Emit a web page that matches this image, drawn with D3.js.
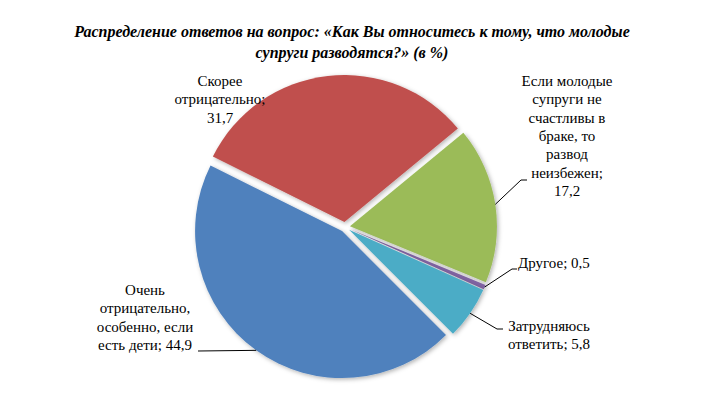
<!DOCTYPE html>
<html>
<head>
<meta charset="utf-8">
<script src="https://cdn.jsdelivr.net/npm/d3@7"></script>
<style>
  html, body { margin: 0; padding: 0; background: #fff; }
  svg { display: block; }
  .serif { font-family: 'Liberation Serif', 'DejaVu Serif', 'Times New Roman', Times, serif; }
</style>
</head>
<body>
<div id="chart"></div>
<script>
// Данные диаграммы (в %)
const labels = [
  'Скорее отрицательно',
  'Если молодые супруги не счастливы в браке, то развод неизбежен',
  'Другое',
  'Затрудняюсь ответить',
  'Очень отрицательно, особенно, если есть дети'
];
const values = [31.7, 17.2, 0.5, 5.8, 44.9];
const colors = ['#C0504D', '#9BBB59', '#8064A2', '#4BACC6', '#4F81BD'];

// Подписи с разбиением на строки
const labelLines = [
  ['Скорее', 'отрицательно;', '31,7'],
  ['Если молодые', 'супруги не', 'счастливы в', 'браке, то', 'развод', 'неизбежен;', '17,2'],
  ['Другое; 0,5'],
  ['Затрудняюсь', 'ответить; 5,8'],
  ['Очень', 'отрицательно,', 'особенно, если', 'есть дети; 44,9']
];

const titleLines = [
  'Распределение ответов на вопрос: «Как Вы относитесь к тому, что молодые',
  'супруги разводятся?» (в %)'
];

const width = 705, height = 397;
const cx = 345, cy = 227, radius = 147;
const explode = 5;
const startAngle = -63.5 * Math.PI / 180;

// Расположение подписей: x, y первой строки, выравнивание, точки выноски
const labelLayout = [
  { x: 220, y: 86, anchor: 'middle', leader: null },
  { x: 567, y: 86, anchor: 'middle', leader: [[521, 180], [527, 180]] },
  { x: 518, y: 268, anchor: 'start', leader: [[512, 269], [517, 269]] },
  { x: 549, y: 331, anchor: 'middle', leader: [[497, 329], [503, 329]] },
  { x: 145, y: 295, anchor: 'middle', leader: [[198, 351]] }
];

const svg = d3.select('#chart').append('svg')
  .attr('width', width)
  .attr('height', height);

const defs = svg.append('defs');
const shadow = defs.append('filter')
  .attr('id', 'shadow')
  .attr('x', '-20%').attr('y', '-20%')
  .attr('width', '140%').attr('height', '140%');
shadow.append('feDropShadow')
  .attr('dx', 1.5).attr('dy', 1.5)
  .attr('stdDeviation', 2)
  .attr('flood-color', '#000')
  .attr('flood-opacity', 0.3);

// Заголовок
svg.append('g')
  .attr('class', 'serif')
  .selectAll('text')
  .data(titleLines)
  .join('text')
  .attr('x', 352)
  .attr('y', (d, i) => 37 + i * 21)
  .attr('text-anchor', 'middle')
  .style('font-size', '16px')
  .style('font-weight', 'bold')
  .style('font-style', 'italic')
  .style('fill', '#000')
  .text(d => d);

const data = values.map((v, i) => ({ label: labels[i], value: v, color: colors[i], lines: labelLines[i], layout: labelLayout[i] }));

const pie = d3.pie()
  .value(d => d.value)
  .sort(null)
  .startAngle(startAngle)
  .endAngle(startAngle + 2 * Math.PI);

const arc = d3.arc()
  .innerRadius(0)
  .outerRadius(radius);

// дуга на внешнем радиусе — для точек выносок
const edgeArc = d3.arc()
  .innerRadius(radius)
  .outerRadius(radius);

const arcs = pie(data);

// смещение сектора вдоль биссектрисы
function offset(d, r) {
  const a = (d.startAngle + d.endAngle) / 2;
  return [Math.sin(a) * r, -Math.cos(a) * r];
}

const g = svg.append('g')
  .attr('transform', `translate(${cx},${cy})`);

g.selectAll('path.slice')
  .data(arcs)
  .join('path')
  .attr('class', 'slice')
  .attr('transform', d => `translate(${offset(d, explode)})`)
  .attr('d', arc)
  .attr('fill', d => d.data.color)
  .attr('filter', 'url(#shadow)');

// Выноски
const line = d3.line();
arcs.forEach(d => {
  const lay = d.data.layout;
  if (!lay.leader) return;
  const [ox, oy] = offset(d, explode);
  const [ex, ey] = edgeArc.centroid(d);
  const pts = [[cx + ox + ex, cy + oy + ey]].concat(lay.leader);
  svg.append('path')
    .attr('d', line(pts))
    .attr('fill', 'none')
    .attr('stroke', '#000')
    .attr('stroke-width', 1);
});

// Подписи
const labelG = svg.append('g')
  .attr('class', 'serif')
  .style('font-size', '15px')
  .style('fill', '#000');

data.forEach(d => {
  const t = labelG.append('text')
    .attr('text-anchor', d.layout.anchor);
  d.lines.forEach((ln, i) => {
    t.append('tspan')
      .attr('x', d.layout.x)
      .attr('y', d.layout.y + i * 18.3)
      .text(ln);
  });
});
</script>
</body>
</html>
